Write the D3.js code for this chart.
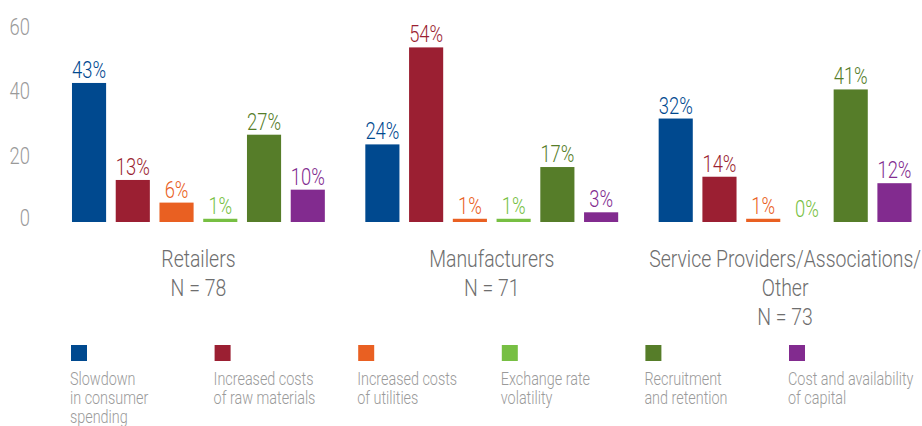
<!DOCTYPE html>
<html>
<head>
<meta charset="utf-8">
<script src="https://cdn.jsdelivr.net/npm/d3@7/dist/d3.min.js"></script>
<style>
  html, body { margin: 0; padding: 0; background: #fff; }
  svg { display: block; }
  text { font-family: Roboto, "Liberation Sans", sans-serif; font-weight: 300; }
</style>
</head>
<body>
<svg id="chart" width="922" height="426"></svg>
<script>
// Respondent groups (multi-line labels)
const groups = ["Retailers", "Manufacturers", "Service Providers"];
const groupLabels = [
  ["Retailers", "N = 78"],
  ["Manufacturers", "N = 71"],
  ["Service Providers/Associations/", "Other", "N = 73"]
];

// Concern categories (legend order)
const concerns = [
  "Slowdown in consumer spending",
  "Increased costs of raw materials",
  "Increased costs of utilities",
  "Exchange rate volatility",
  "Recruitment and retention",
  "Cost and availability of capital"
];
const legendLines = [
  ["Slowdown", "in consumer", "spending"],
  ["Increased costs", "of raw materials"],
  ["Increased costs", "of utilities"],
  ["Exchange rate", "volatility"],
  ["Recruitment", "and retention"],
  ["Cost and availability", "of capital"]
];
const colors = ["#00498f", "#9b1f32", "#e96022", "#77bf43", "#567d29", "#822b8f"];

// Percent of respondents per group, in concern order
const retailers     = [43, 13, 6, 1, 27, 10];
const manufacturers = [24, 54, 1, 1, 17, 3];
const services      = [32, 14, 1, 0, 41, 12];
const seriesByGroup = [retailers, manufacturers, services];

const yTicks = [0, 20, 40, 60];

// Condensed look: squeeze glyphs horizontally
const squeeze = (x, yy, sx = 0.8) => `translate(${x},${yy}) scale(${sx},1)`;

const svg = d3.select("#chart");

const y = d3.scaleLinear().domain([0, 60]).range([222, 28]);

const x0 = d3.scaleBand()
  .domain(groups)
  .range([31.5, 952])
  .paddingInner(0.138)
  .paddingOuter(0.138);

const x1 = d3.scaleBand()
  .domain(d3.range(concerns.length))
  .range([0, x0.bandwidth()])
  .paddingInner(0.22)
  .paddingOuter(0);

// Y axis: labels only, no domain line or tick marks
const yAxis = d3.axisLeft(y).tickValues(yTicks).tickSize(0).tickPadding(0);
const yg = svg.append("g")
  .attr("transform", "translate(30,0)")
  .call(yAxis);
yg.select(".domain").remove();
yg.selectAll("text")
  .attr("fill", "#9a9a9a")
  .style("font-size", "23px")
  .attr("x", null)
  .attr("dy", "0.36em")
  .attr("transform", t => squeeze(0, t === 0 ? -5 : -2));

// Bars and value labels
const gGroups = svg.append("g").selectAll("g")
  .data(groups)
  .join("g")
  .attr("transform", d => `translate(${x0(d)},0)`);

gGroups.each(function(gName, gi) {
  const vals = seriesByGroup[gi].map((v, i) => ({ v, i }));
  const g = d3.select(this);
  g.selectAll("rect")
    .data(vals)
    .join("rect")
    .attr("x", d => x1(d.i))
    .attr("y", d => y(d.v))
    .attr("width", x1.bandwidth())
    .attr("height", d => y(0) - y(d.v))
    .attr("fill", d => colors[d.i]);
  g.selectAll("text")
    .data(vals)
    .join("text")
    .attr("transform", d => squeeze(x1(d.i) + x1.bandwidth() / 2, y(d.v) - 5))
    .attr("text-anchor", "middle")
    .attr("fill", d => colors[d.i])
    .style("font-size", "23px")
    .text(d => d.v + "%");
});

// Group labels under the bars
svg.append("g").selectAll("text")
  .data(groups)
  .join("text")
  .attr("text-anchor", "middle")
  .attr("fill", "#6e6e6e")
  .style("font-size", "24px")
  .attr("transform", d => squeeze(x0(d) + x0.bandwidth() / 2, 267, 0.81))
  .each(function(d, gi) {
    d3.select(this).selectAll("tspan")
      .data(groupLabels[gi])
      .join("tspan")
      .attr("x", 0)
      .attr("y", (t, k) => k * 29)
      .text(t => t);
  });

// Legend
const lx = d3.scalePoint().domain(d3.range(concerns.length)).range([71, 789]);
const lg = svg.append("g").selectAll("g")
  .data(concerns)
  .join("g")
  .attr("transform", (d, i) => `translate(${lx(i)},345)`);
lg.append("rect")
  .attr("width", 16)
  .attr("height", 16)
  .attr("fill", (d, i) => colors[i]);
lg.append("text")
  .attr("fill", "#9a9a9a")
  .style("font-size", "18px")
  .attr("transform", squeeze(-1, 0))
  .each(function(d, i) {
    d3.select(this).selectAll("tspan")
      .data(legendLines[i])
      .join("tspan")
      .attr("x", 0)
      .attr("y", (t, k) => 40 + k * 19)
      .text(t => t);
  });
</script>
</body>
</html>
